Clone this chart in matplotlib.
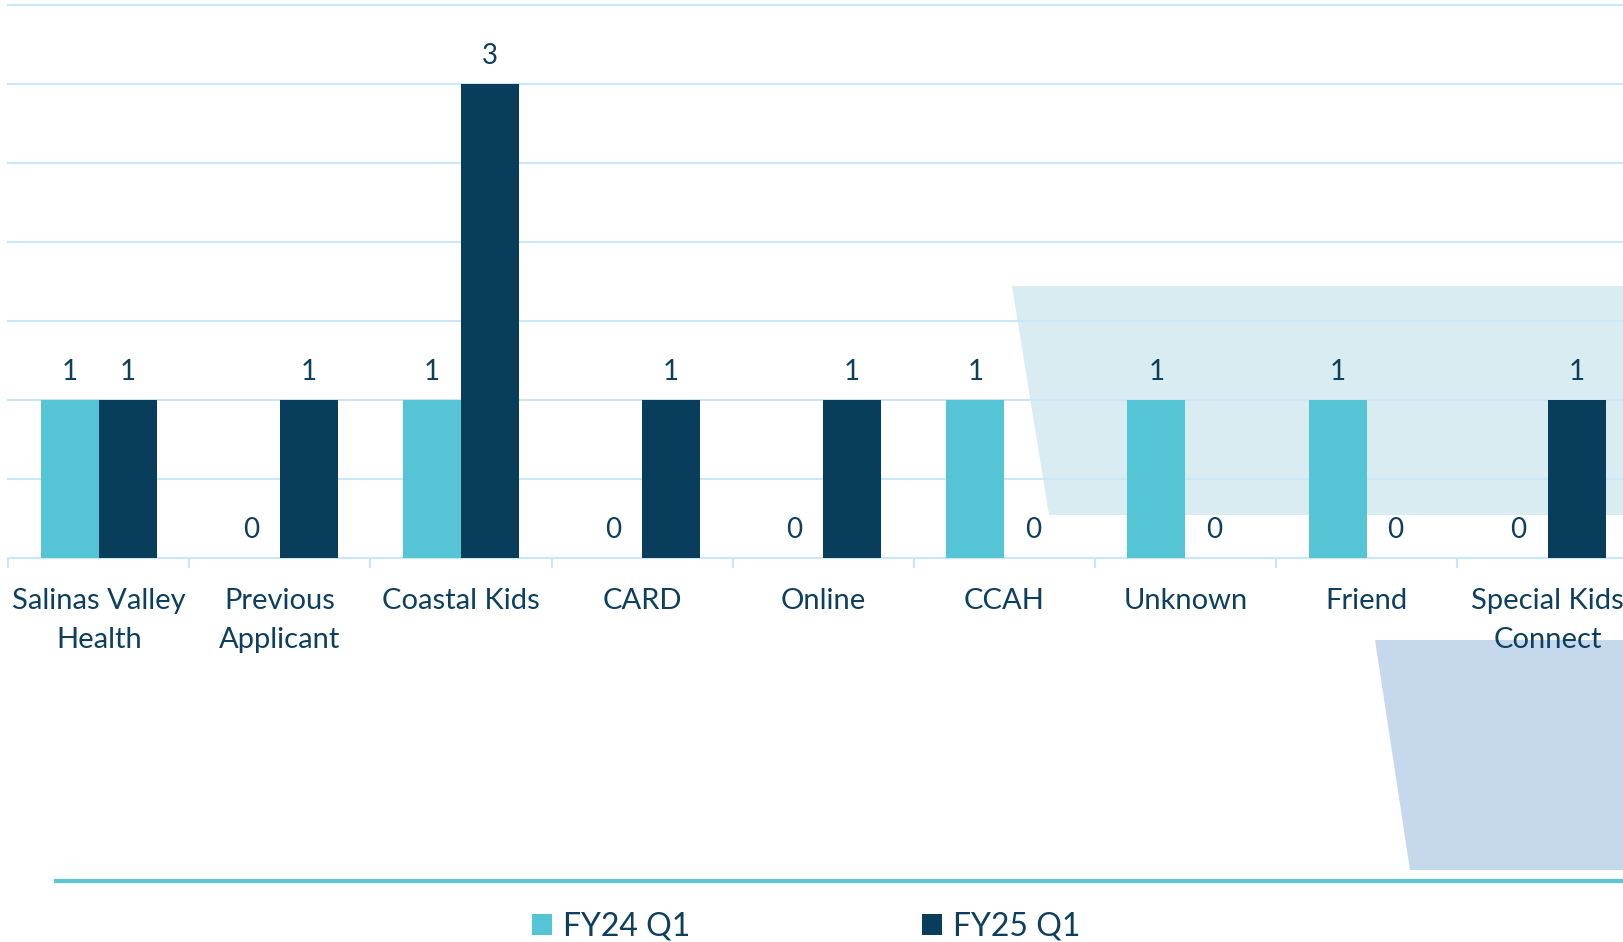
import matplotlib.pyplot as plt
from matplotlib.patches import Polygon
from matplotlib.lines import Line2D
import numpy as np

plt.rcParams['font.family'] = ['Lato', 'DejaVu Sans']

# data
categories = ['Salinas Valley\nHealth', 'Previous\nApplicant', 'Coastal Kids', 'CARD',
              'Online', 'CCAH', 'Unknown', 'Friend', 'Special Kids\nConnect']
series_names = ['FY24 Q1', 'FY25 Q1']
fy24_q1 = [1, 0, 1, 0, 0, 1, 1, 1, 0]
fy25_q1 = [1, 1, 3, 1, 1, 0, 0, 0, 1]

light = '#55C4D5'
dark = '#083D5C'
text_c = '#0E3F5E'
grid_c = '#C9E7F6'

W, H = 1623, 942
fig = plt.figure(figsize=(W / 100, H / 100), dpi=100)

def fx(px):
    return px / W

def fy(py):
    return 1 - py / H

# decorative background shapes (figure coords), behind the axes
fig.patches.append(Polygon([(fx(1012), fy(285.7)), (1.01, fy(285.7)), (1.01, fy(514.5)),
                            (fx(1048.6), fy(514.5))], closed=True, transform=fig.transFigure,
                           facecolor='#D8ECF2', edgecolor='none', zorder=-2))
fig.patches.append(Polygon([(fx(1374.6), fy(640)), (1.01, fy(640)), (1.01, fy(869.5)),
                            (fx(1410), fy(869.5))], closed=True, transform=fig.transFigure,
                           facecolor='#C6D9EC', edgecolor='none', zorder=-2))
fig.lines.append(Line2D([fx(56), 1.01], [fy(881), fy(881)], transform=fig.transFigure,
                        color='#5BC7D4', linewidth=3.0, zorder=-2))

ax = fig.add_axes([fx(8.3), fy(558), 9 * 181.1 / W, (558 - 5.2) / H])
ax.set_zorder(1)
ax.patch.set_alpha(0)

x = np.arange(len(categories))
bw = 0.32
b1 = ax.bar(x - bw / 2, fy24_q1, bw, color=light, label=series_names[0], zorder=3)
b2 = ax.bar(x + bw / 2, fy25_q1, bw, color=dark, label=series_names[1], zorder=3)

for bars in (b1, b2):
    for r in bars:
        ax.annotate(f'{int(r.get_height())}', (r.get_x() + r.get_width() / 2, r.get_height()),
                    xytext=(0, 20.5), textcoords='offset points', ha='center', va='center',
                    fontsize=20, color=text_c)

ax.set_xlim(-0.5, len(categories) - 0.5)
ax.set_ylim(0, 3.5)
ax.set_yticks(np.arange(0, 3.6, 0.5))
ax.yaxis.grid(True, color=grid_c, linewidth=1.5, zorder=0)
for gl in ax.get_ygridlines():
    gl.set_clip_on(False)
ax.set_axisbelow(True)
ax.tick_params(axis='y', left=False, labelleft=False)

ax.set_xticks(x)
ax.set_xticklabels(categories, fontsize=21, color=text_c, linespacing=1.62)
ax.set_xticks(np.arange(-0.5, len(categories), 1), minor=True)
ax.tick_params(axis='x', which='major', length=0, pad=21.5)
ax.tick_params(axis='x', which='minor', length=7, width=1.5, color=grid_c)

for s in ('top', 'right', 'left'):
    ax.spines[s].set_visible(False)
ax.spines['bottom'].set_color(grid_c)
ax.spines['bottom'].set_linewidth(1.5)

fig.legend(handles=[b1, b2], labels=series_names, loc='center',
           bbox_to_anchor=(fx(806), fy(927)), ncol=2, frameon=False, fontsize=23,
           handlelength=0.63, handleheight=0.63, handletextpad=0.35, columnspacing=7.25,
           labelcolor=text_c)

fig.savefig('out.png', dpi=100)
